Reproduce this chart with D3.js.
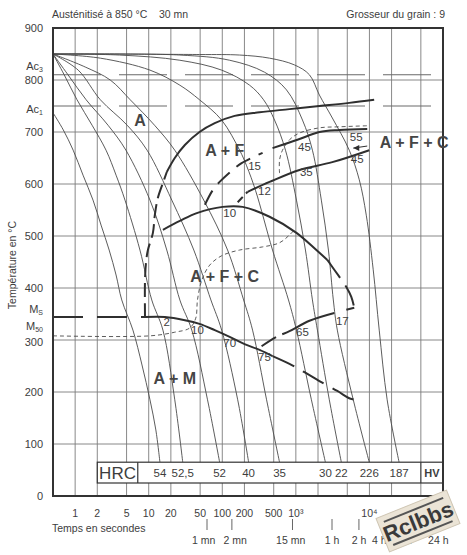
<!DOCTYPE html>
<html>
<head>
<meta charset="utf-8">
<script src="https://cdn.jsdelivr.net/npm/d3@7/dist/d3.min.js"></script>
<style>
body { margin: 0; background: #fff; }
text { font-family: "Liberation Sans", Arial, sans-serif; fill: #3d3d3d; }
</style>
</head>
<body>
<div id="chart"></div>
<script>
let width = 467;
let height = 555;

// grid + axis values
let gridTimes = [1, 2, 5, 10, 20, 50, 100, 200, 500, 1000, 2000, 5000, 10000, 20000, 50000];
let gridTemps = [100, 200, 300, 400, 500, 600, 700, 800];
let tempTicks = [0, 100, 200, 300, 400, 500, 600, 700, 800, 900];
let timeTickValues = [1, 2, 5, 10, 20, 50, 100, 200, 500, 1000, 10000];
let timeTickLabels = ["1", "2", "5", "10", "20", "50", "100", "200", "500", "10\u00B3", "10\u2074"];
let clockTickTimes = [62, 135, 900, 3100, 7200];
let clockTimes = [56, 150, 850, 3100, 7200, 13600, 30000, 86400];
let clockLabels = ["1 mn", "2 mn", "15 mn", "1 h", "2 h", "4 h", "8 h", "24 h"];

// critical points
let Ac3 = 810, Ac1 = 750, Ms = 344, M50 = 308;

// cooling curves [time s, temperature °C], fastest first
let curve54 = [[0.5,737],[0.69,704],[0.94,665],[1.28,617],[1.75,569],[2.25,521],[2.9,473],[3.6,425],[4.3,377],[6.1,319],[8.1,252],[10.4,185],[12.5,127],[14.2,65]];
let curve525 = [[0.5,850],[0.71,810],[1.06,762],[1.7,713],[2.63,665],[3.6,617],[4.76,569],[7.6,473],[11,377],[15.6,319],[22.6,185],[29,65]];
let curve52 = [[0.5,850],[0.8,810],[1.41,762],[2.8,713],[4.9,665],[10.4,569],[17.6,473],[26.5,377],[38.5,319],[63,185],[92,65]];
let curve40 = [[0.5,850],[1.1,819],[2.2,762],[5.1,713],[9.5,665],[20.6,569],[41,473],[70,377],[98,319],[162,185],[228,65]];
let curve35 = [[0.5,850],[1.37,825],[3,800],[5.6,762],[12,713],[22.6,665],[56,569],[118,473],[195,377],[258,319],[400,185],[600,65]];
let curve30 = [[0.5,850],[2.2,842],[10.4,819],[26.5,790],[49,762],[98,723],[172,665],[214,635],[284,587],[482,473],[794,377],[1019,319],[1627,185],[2520,65]];
let curve22 = [[0.5,850],[4,848],[26.5,838],[98,819],[235,790],[364,762],[513,723],[723,665],[1019,569],[1350,473],[1680,377],[1963,319],[2850,185],[4150,65]];
let curve226 = [[0.5,850],[26.5,848],[126,838],[375,815],[746,781],[1230,723],[1680,665],[2220,569],[2770,473],[3230,377],[3660,319],[6030,185],[9940,65]];
let curve187 = [[0.5,850],[49,849],[172,848],[439,842],[957,829],[1530,810],[2090,771],[3130,727],[5320,665],[7280,608],[9060,540],[11260,435],[13590,319],[17420,185],[25300,65]];
let coolingCurves = [curve54, curve525, curve52, curve40, curve35, curve30, curve22, curve226, curve187];
let hardness = ["54", "52,5", "52", "40", "35", "30", "22", "226", "187"];

// transformation lines
let ferriteStart = [[17.6,623],[22.6,650],[31,675],[49,700],[79,717],[147,731],[321,738],[819,744],[2090,750],[5320,756],[11600,762]];
let ferriteStartDashed = [[8.9,344],[8.9,415],[9.2,450],[9.75,473],[11.4,506],[12.1,540],[13.3,573],[15.6,602],[17.6,623]];
let bainiteStart = [[15.6,512],[26.5,529],[45,544],[101,556],[189,556],[439,537],[1019,506],[1900,473],[2680,454]];
let bainiteStartDashed = [[2680,454],[3330,435],[4850,402],[5670,383],[6220,362]];
let bainiteHook = [[6220,362],[4850,358]];
let msLine = [[8.9,344],[16.6,344],[31,338],[49,331],[79,319],[126,306],[201,292],[321,281],[482,269]];
let msLineDashed = [[482,269],[819,254],[1308,238],[2090,221],[3660,202],[5320,188],[6620,183],[6830,173]];
let msLeftDashed = [[0.5,344],[8.9,344]];
let line17 = [[342,288],[546,306],[819,317],[1530,337],[3330,352]];
let line55 = [[482,669],[1052,685],[2090,700],[3900,704],[9340,706]];
let line45 = [[221,585],[439,604],[1120,627],[3130,642],[9940,665]];
let line45Dashed = [[162,565],[201,579],[221,585]];
let line15 = [[58,560],[74,588],[92,604],[138,627],[183,640],[353,660]];
let thinDashedTop = [[600,621],[600,646],[658,665],[819,685],[1120,698],[2090,708],[3900,710],[9340,712]];
let thinDashedMid = [[0.5,308],[10.4,308],[22.6,315],[36,323],[43.6,342],[46,377],[52.6,415],[67.5,444],[98,462],[172,473],[353,479],[600,487],[819,502],[957,512]];

// region + percentage labels [time, temp, text]
let regionLabels = [[7.6,723,"A"],[108,665,"A + F"],[40500,681,"A + F + C"],[108,423,"A + F + C"],[22.6,227,"A + M"]];
let pctLabels = [[6620,690,"55"],[1308,671,"45"],[275,635,"15"],[1390,623,"35"],[6830,648,"45"],[375,587,"12"],[126,544,"10"],[17.6,335,"2"],[46,319,"10"],[126,294,"70"],[375,267,"75"],[1230,315,"65"],[4280,337,"17"]];

let svg = d3.select("#chart").append("svg")
    .attr("width", width)
    .attr("height", height);

let x = d3.scaleLog().domain([0.5, 1e5]).range([53, 443]);
let y = d3.scaleLinear().domain([0, 900]).range([496, 28]);

svg.append("clipPath").attr("id", "plot")
    .append("rect")
    .attr("x", x(0.5)).attr("y", y(900))
    .attr("width", x(1e5) - x(0.5)).attr("height", y(0) - y(900));

let line = d3.line()
    .x(d => x(d[0]))
    .y(d => y(d[1]))
    .curve(d3.curveCatmullRom.alpha(0.5));

// grid
svg.append("g").selectAll("line").data(gridTimes).join("line")
    .attr("x1", d => x(d)).attr("x2", d => x(d))
    .attr("y1", y(900)).attr("y2", y(0))
    .attr("stroke", "#7c7c7c").attr("stroke-width", 0.9);

svg.append("g").selectAll("line").data(gridTemps).join("line")
    .attr("x1", x(0.5)).attr("x2", x(1e5))
    .attr("y1", d => y(d)).attr("y2", d => y(d))
    .attr("stroke", "#7c7c7c").attr("stroke-width", 0.9);

// Ac3 / Ac1
svg.append("g").selectAll("line").data([Ac3, Ac1]).join("line")
    .attr("x1", x(0.5)).attr("x2", x(1e5))
    .attr("y1", d => y(d)).attr("y2", d => y(d))
    .attr("stroke", "#6a6a6a").attr("stroke-width", 1.1)
    .attr("stroke-dasharray", "48,18");

let plot = svg.append("g").attr("clip-path", "url(#plot)");

// cooling curves
plot.selectAll(".cool").data(coolingCurves).join("path")
    .attr("class", "cool")
    .attr("d", line)
    .attr("fill", "none")
    .attr("stroke", "#4a4a4a")
    .attr("stroke-width", 0.9);

// thin dashed boundaries
plot.selectAll(".thin").data([thinDashedTop, thinDashedMid]).join("path")
    .attr("class", "thin")
    .attr("d", line)
    .attr("fill", "none")
    .attr("stroke", "#4a4a4a")
    .attr("stroke-width", 0.9)
    .attr("stroke-dasharray", "4,3");

// bold transformation lines
function bold(data, dash) {
    plot.append("path")
        .attr("d", line(data))
        .attr("fill", "none")
        .attr("stroke", "#2f2f2f")
        .attr("stroke-width", 2)
        .attr("stroke-dasharray", dash || null);
}
bold(ferriteStart);
bold(ferriteStartDashed, "14,6");
bold(bainiteStart);
bold(bainiteStartDashed, "22,9");
bold(bainiteHook);
bold(msLine);
bold(msLineDashed, "24,10");
bold(msLeftDashed, "30,14");
bold(line17, "17,7,120");
bold(line55);
bold(line45);
bold(line45Dashed, "7,5");
bold(line15, "16,9");

// arrow to upper A + F + C
plot.append("line")
    .attr("x1", x(9340)).attr("y1", y(673))
    .attr("x2", x(6030)).attr("y2", y(669))
    .attr("stroke", "#2f2f2f").attr("stroke-width", 1);
plot.append("path")
    .attr("d", d3.line()([[x(6030), y(669)], [x(6030) + 6, y(669) - 3], [x(6030) + 6, y(669) + 3]]) + "Z")
    .attr("fill", "#2f2f2f");

// HRC box
let hrc = svg.append("g");
hrc.append("rect")
    .attr("x", x(2)).attr("y", y(65))
    .attr("width", x(1e5) - x(2)).attr("height", y(25) - y(65))
    .attr("fill", "#fff").attr("stroke", "#333").attr("stroke-width", 1.2);
hrc.selectAll(".sep").data([7.1, 50000]).join("line")
    .attr("class", "sep")
    .attr("x1", d => x(d)).attr("x2", d => x(d))
    .attr("y1", y(65)).attr("y2", y(25))
    .attr("stroke", "#333").attr("stroke-width", 1.2);
hrc.append("text")
    .attr("x", (x(2) + x(7.1)) / 2).attr("y", (y(65) + y(25)) / 2 + 6)
    .attr("text-anchor", "middle").attr("font-size", 17).text("HRC");
hrc.append("text")
    .attr("x", (x(50000) + x(1e5)) / 2).attr("y", (y(65) + y(25)) / 2 + 4)
    .attr("text-anchor", "middle").attr("font-size", 11).attr("font-weight", "bold").text("HV");
hrc.selectAll(".hv").data(coolingCurves).join("text")
    .attr("class", "hv")
    .attr("x", d => x(d[d.length - 1][0]))
    .attr("y", (y(65) + y(25)) / 2 + 4)
    .attr("text-anchor", "middle").attr("font-size", 11.5)
    .text((d, i) => hardness[i]);

// frame
svg.append("rect")
    .attr("x", x(0.5)).attr("y", y(900))
    .attr("width", x(1e5) - x(0.5)).attr("height", y(0) - y(900))
    .attr("fill", "none").attr("stroke", "#333").attr("stroke-width", 2);

// labels in the diagram
svg.append("g").selectAll("text").data(regionLabels).join("text")
    .attr("x", d => x(d[0])).attr("y", d => y(d[1]) + 6)
    .attr("text-anchor", "middle")
    .attr("font-size", 16).attr("font-weight", "bold")
    .style("fill", "#454545")
    .text(d => d[2]);

svg.append("g").selectAll("text").data(pctLabels).join("text")
    .attr("x", d => x(d[0])).attr("y", d => y(d[1]) + 4)
    .attr("text-anchor", "middle")
    .attr("font-size", 11.5)
    .text(d => d[2]);

// y axis labels
svg.append("g").selectAll("text").data(tempTicks).join("text")
    .attr("x", 43).attr("y", d => y(d) + (d === 300 ? 6 : 4))
    .attr("text-anchor", "end").attr("font-size", 11)
    .text(d => d);

let crit = [[Ac3, "Ac", "3", -9], [Ac1, "Ac", "1", 3], [Ms, "M", "S", -8], [M50, "M", "50", -10]];
crit.forEach(function(c) {
    let t = svg.append("text")
        .attr("x", 43).attr("y", y(c[0]) + c[3] + 4)
        .attr("text-anchor", "end").attr("font-size", 11);
    t.append("tspan").text(c[1]);
    t.append("tspan").attr("font-size", 7).attr("dy", 2).text(c[2]);
});

svg.append("text")
    .attr("transform", "translate(16," + 265 + ") rotate(-90)")
    .attr("text-anchor", "middle").attr("font-size", 10.5)
    .text("Température en °C");

// x axis labels
svg.append("g").selectAll("text").data(timeTickValues).join("text")
    .attr("x", d => x(d)).attr("y", 517)
    .attr("text-anchor", "middle").attr("font-size", 10.5)
    .text((d, i) => timeTickLabels[i]);

svg.append("text")
    .attr("x", 52).attr("y", 532)
    .attr("font-size", 10.5)
    .text("Temps en secondes");

svg.append("g").selectAll("line").data(clockTickTimes).join("line")
    .attr("x1", d => x(d)).attr("x2", d => x(d))
    .attr("y1", 519).attr("y2", 530)
    .attr("stroke", "#555").attr("stroke-width", 0.9);

svg.append("g").selectAll("text").data(clockTimes).join("text")
    .attr("x", d => x(d)).attr("y", 544)
    .attr("text-anchor", "middle").attr("font-size", 10.5)
    .text((d, i) => clockLabels[i]);

// header
svg.append("text").attr("x", 52).attr("y", 18).attr("font-size", 10.5)
    .style("white-space", "pre")
    .text("Austénitisé à 850 °C    30 mn");
svg.append("text").attr("x", 445).attr("y", 18).attr("font-size", 10.5)
    .attr("text-anchor", "end")
    .text("Grosseur du grain : 9");

// stamp
let stamp = svg.append("g").attr("transform", "translate(418,521) rotate(-22)");
stamp.append("rect")
    .attr("x", -38).attr("y", -18).attr("width", 76).attr("height", 36)
    .attr("fill", "#ebe4d6").attr("stroke", "#cfc6b4");
stamp.append("line").attr("x1", -32).attr("x2", 32).attr("y1", -12).attr("y2", -12)
    .attr("stroke", "#555").attr("stroke-width", 2);
stamp.append("line").attr("x1", -32).attr("x2", 32).attr("y1", 13).attr("y2", 13)
    .attr("stroke", "#555").attr("stroke-width", 2);
stamp.append("text")
    .attr("x", 0).attr("y", 8)
    .attr("text-anchor", "middle").attr("font-size", 22).attr("font-weight", "bold")
    .style("fill", "#3a3a3a")
    .text("Rclbbs");
</script>
</body>
</html>
